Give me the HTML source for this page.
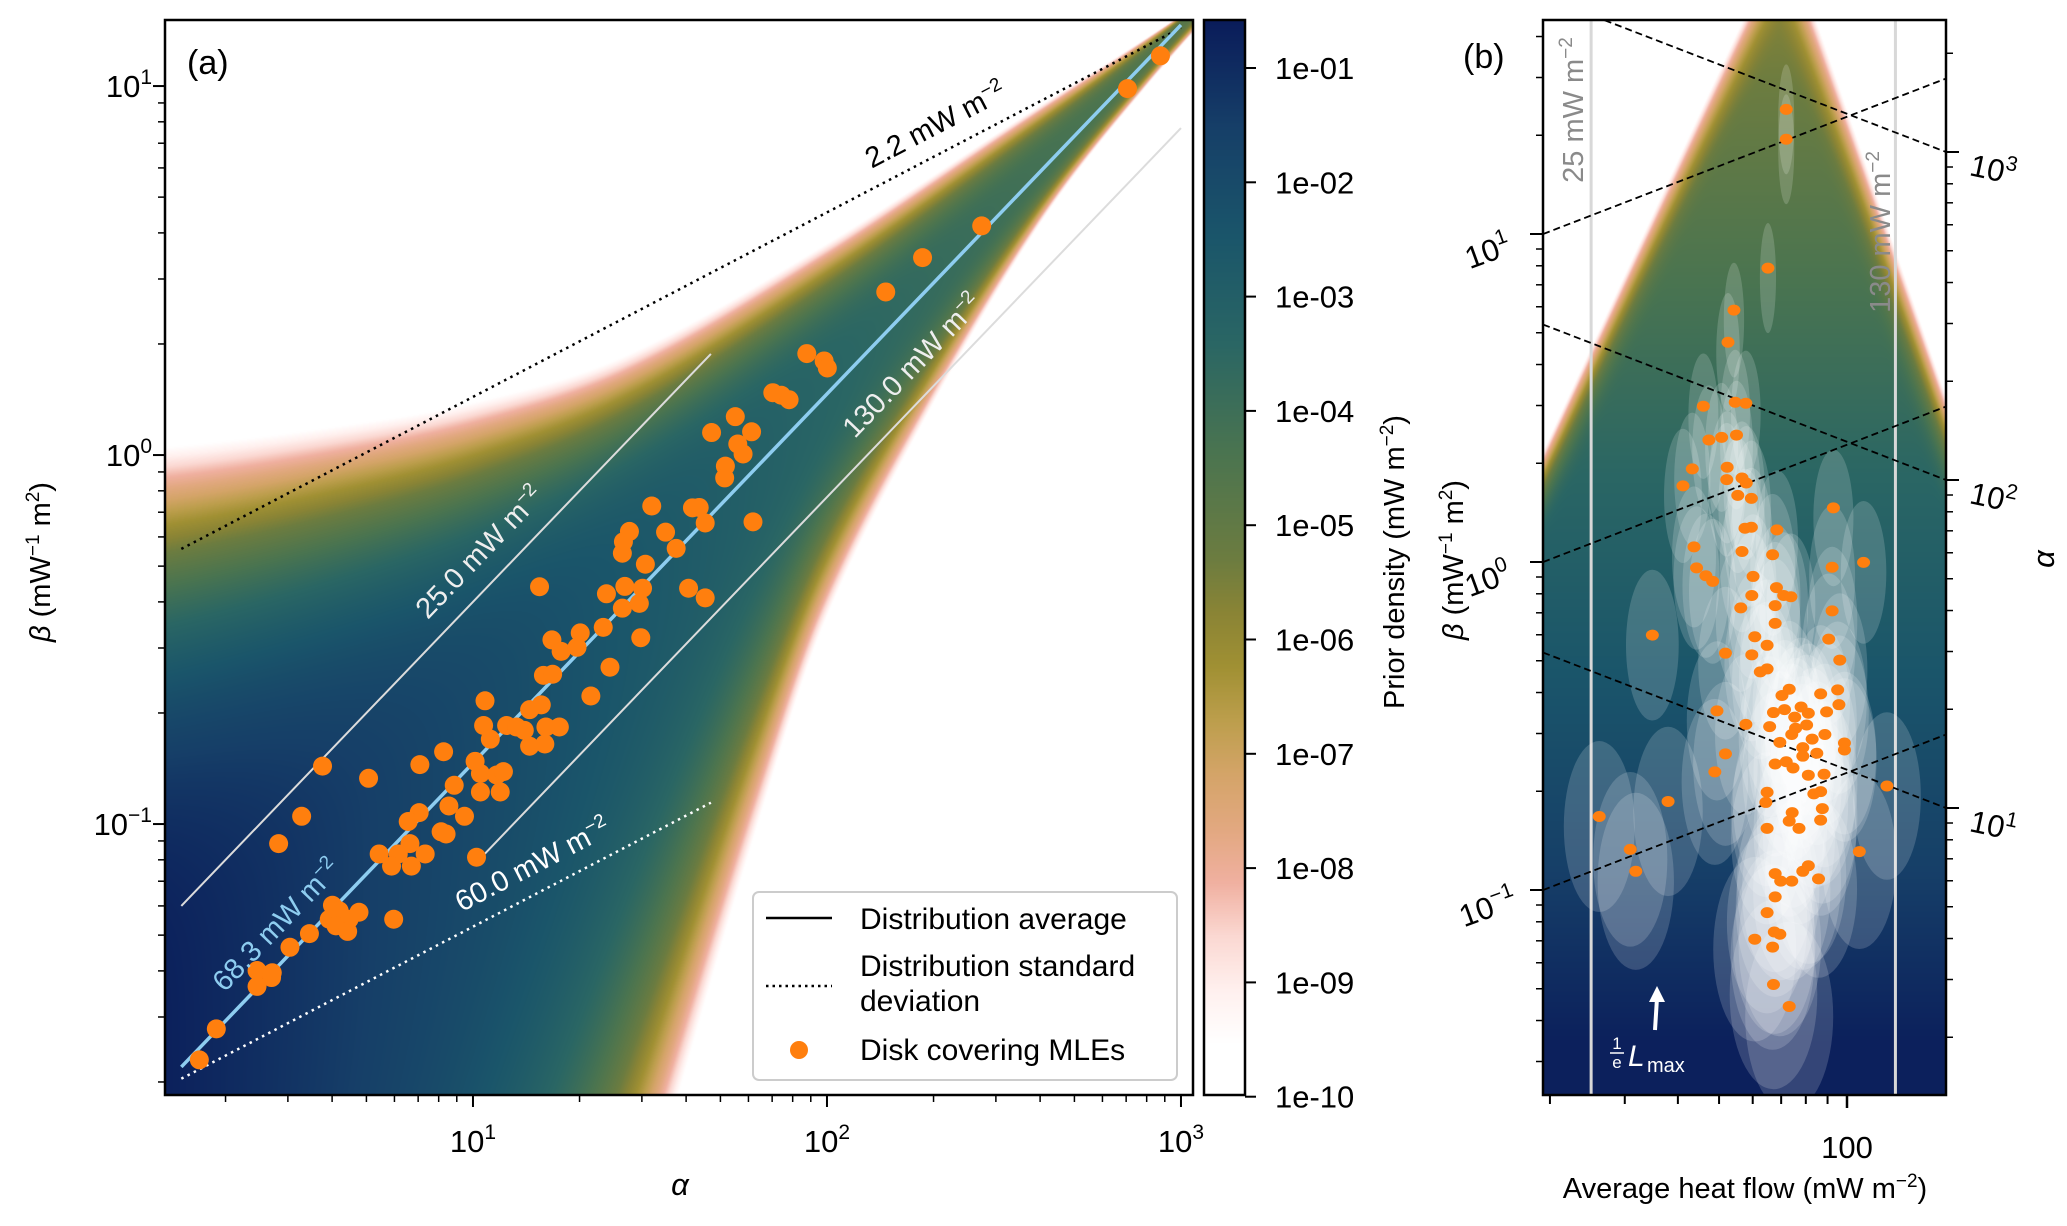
<!DOCTYPE html>
<html><head><meta charset="utf-8">
<style>
html,body{margin:0;padding:0;background:#fff;}
#root{position:relative;width:2067px;height:1226px;overflow:hidden;background:#fff;font-family:"Liberation Sans","DejaVu Sans",sans-serif;}
canvas{position:absolute;}
svg{position:absolute;left:0;top:0;}
text{font-family:"Liberation Sans","DejaVu Sans",sans-serif;}
</style></head>
<body>
<div id="root">
<canvas id="densA" width="1028" height="1075" style="left:165px;top:20px"></canvas>
<canvas id="densB" width="403" height="1075" style="left:1543px;top:20px"></canvas>
<canvas id="cbar" width="41" height="1075" style="left:1204px;top:20px"></canvas>
<svg id="svg" width="2067" height="1226" viewBox="0 0 2067 1226">
<defs>
<clipPath id="clipA"><rect x="165" y="20" width="1028" height="1075"/></clipPath>
<clipPath id="clipB"><rect x="1543" y="20" width="403" height="1075"/></clipPath>
</defs>
<g id="gA" clip-path="url(#clipA)"></g>
<g id="gB" clip-path="url(#clipB)"></g>
<g id="ticks"></g>

<rect x="165" y="20" width="1028" height="1075" fill="none" stroke="#000" stroke-width="2.5"/>
<rect x="1204" y="20" width="41" height="1075" fill="none" stroke="#000" stroke-width="2.5"/>
<rect x="1543" y="20" width="403" height="1075" fill="none" stroke="#000" stroke-width="2.5"/>

<text x="187" y="74" font-size="34">(a)</text>
<text x="1463" y="68" font-size="34">(b)</text>

<text x="680" y="1195" font-size="31" font-style="italic" text-anchor="middle">α</text>
<text transform="translate(50,562) rotate(-90)" font-size="29" text-anchor="middle"><tspan font-style="italic">β</tspan> (mW<tspan dy="-11" font-size="19">−1</tspan><tspan dy="11"> m</tspan><tspan dy="-11" font-size="19">2</tspan><tspan dy="11">)</tspan></text>
<text transform="translate(1404,562) rotate(-90)" font-size="29" text-anchor="middle">Prior density (mW m<tspan dy="-11" font-size="19">−2</tspan><tspan dy="11">)</tspan></text>
<text transform="translate(1463,560) rotate(-90)" font-size="29" text-anchor="middle"><tspan font-style="italic">β</tspan> (mW<tspan dy="-11" font-size="19">−1</tspan><tspan dy="11"> m</tspan><tspan dy="-11" font-size="19">2</tspan><tspan dy="11">)</tspan></text>
<text transform="translate(2054,559) rotate(-90)" font-size="31" font-style="italic" text-anchor="middle">α</text>
<text x="1745" y="1198" font-size="29" text-anchor="middle">Average heat flow (mW m<tspan dy="-11" font-size="19">−2</tspan><tspan dy="11">)</tspan></text>

<g>
<rect x="753" y="892" width="424" height="188" rx="6" fill="#fff" fill-opacity="0.85" stroke="#ccc" stroke-width="2"/>
<line x1="766" y1="918" x2="832" y2="918" stroke="#000" stroke-width="2.5"/>
<text x="860" y="929" font-size="30">Distribution average</text>
<line x1="766" y1="986" x2="832" y2="986" stroke="#000" stroke-width="2.5" stroke-dasharray="2.5 4"/>
<text x="860" y="976" font-size="30">Distribution standard</text>
<text x="860" y="1011" font-size="30">deviation</text>
<circle cx="799" cy="1050" r="9" fill="#ff7f0e"/>
<text x="860" y="1060" font-size="30">Disk covering MLEs</text>
</g>

<text transform="translate(1583,110) rotate(-90)" font-size="29" fill="#8a8a8a" text-anchor="middle">25 mW m<tspan dy="-11" font-size="19">−2</tspan></text>
<text transform="translate(1890,232) rotate(-90)" font-size="29" fill="#8a8a8a" text-anchor="middle">130 mW m<tspan dy="-11" font-size="19">−2</tspan></text>

<g>
<line x1="1655" y1="1030" x2="1657" y2="998" stroke="#fff" stroke-width="4"/>
<polygon points="1657,986 1649,1002 1665,1002" fill="#fff"/>
<text x="1617" y="1049" font-size="17" fill="#fff" text-anchor="middle">1</text>
<line x1="1610" y1="1053" x2="1624" y2="1053" stroke="#fff" stroke-width="1.5"/>
<text x="1617" y="1068" font-size="17" fill="#fff" text-anchor="middle">e</text>
<text x="1628" y="1066" font-size="30" font-style="italic" fill="#fff">L</text>
<text x="1647" y="1072" font-size="20" fill="#fff">max</text>
</g>
</svg>
</div>
<script>
// ---------- DATA: panel (a) MLE disks (log10 alpha, log10 beta) ----------
const logAlpha = [2.942,2.849,2.437,2.270,2.166,1.943,1.992,2.001,1.847,1.871,1.893,1.741,1.787,1.674,1.748,1.763,1.713,1.711,1.791,1.505,1.620,1.639,1.656,1.442,1.425,1.422,1.544,1.574,1.487,1.656,1.609,1.188,1.377,1.429,1.479,1.422,1.470,1.368,1.223,1.303,1.249,1.294,1.474,1.199,1.225,1.387,1.333,1.160,1.193,1.034,1.030,1.095,1.123,1.145,1.206,1.244,1.049,1.160,1.203,1.006,1.021,1.067,1.086,0.947,1.021,1.077,0.932,0.976,0.917,0.850,0.705,0.575,0.848,0.817,0.910,0.924,0.822,0.735,0.789,0.865,0.770,0.826,1.010,0.516,0.451,0.776,0.603,0.622,0.650,0.594,0.678,0.613,0.646,0.538,0.483,0.390,0.433,0.431,0.390,0.275,0.227];
const logBeta = [1.082,0.993,0.621,0.535,0.442,0.275,0.255,0.236,0.169,0.162,0.150,0.104,0.063,0.061,0.030,0.003,-0.030,-0.062,-0.181,-0.138,-0.143,-0.142,-0.184,-0.207,-0.235,-0.266,-0.209,-0.253,-0.296,-0.387,-0.361,-0.357,-0.376,-0.356,-0.361,-0.415,-0.402,-0.467,-0.501,-0.482,-0.532,-0.521,-0.495,-0.597,-0.594,-0.575,-0.653,-0.690,-0.677,-0.666,-0.733,-0.733,-0.737,-0.746,-0.737,-0.737,-0.770,-0.789,-0.783,-0.830,-0.863,-0.867,-0.858,-0.895,-0.913,-0.913,-0.951,-0.979,-0.804,-0.839,-0.876,-0.843,-0.969,-0.993,-1.021,-1.027,-1.053,-1.081,-1.081,-1.081,-1.114,-1.114,-1.090,-0.979,-1.053,-1.258,-1.220,-1.235,-1.258,-1.258,-1.239,-1.276,-1.291,-1.297,-1.334,-1.397,-1.403,-1.416,-1.440,-1.555,-1.639];
const meanQ = 68.3;
const isoQ = [25.0, 130.0];
const stdS = [2.2, 60.0];
// ---------- DATA: panel (b) (log10 heat flow, log10 beta-axis value) ----------
const bLogQ = [1.857,1.857,1.814,1.734,1.720,1.662,1.737,1.762,1.705,1.675,1.740,1.636,1.718,1.614,1.717,1.753,1.763,1.743,1.775,1.640,1.760,1.775,1.835,1.753,1.646,1.668,1.684,1.779,1.825,1.968,2.039,1.965,1.834,1.851,1.868,1.750,1.776,1.965,1.831,1.831,1.542,1.957,1.783,1.812,1.714,1.776,1.983,1.796,1.812,1.847,1.864,1.938,1.978,1.694,1.827,1.853,1.892,1.909,1.877,1.952,1.981,1.762,1.818,1.879,1.905,1.842,1.870,1.918,1.948,1.994,1.994,1.714,1.896,1.929,1.831,1.857,1.896,1.873,1.909,1.946,1.689,2.094,1.579,1.812,1.922,1.938,1.809,1.942,1.417,1.871,1.864,1.938,1.812,1.887,1.490,1.503,2.029,1.831,1.844,1.870,1.896,1.909,1.933,1.831,1.812,1.783,1.829,1.842,1.825,1.827,1.864];
const bLogV = [1.380,1.289,0.896,0.768,0.670,0.475,0.487,0.484,0.380,0.372,0.387,0.284,0.289,0.232,0.251,0.256,0.241,0.203,0.194,0.046,0.103,0.106,0.098,0.032,-0.018,-0.042,-0.059,-0.044,0.022,0.165,-0.001,-0.016,-0.078,-0.102,-0.106,-0.140,-0.102,-0.149,-0.133,-0.187,-0.223,-0.235,-0.228,-0.254,-0.278,-0.283,-0.299,-0.335,-0.326,-0.407,-0.388,-0.402,-0.390,-0.454,-0.459,-0.450,-0.442,-0.461,-0.473,-0.457,-0.435,-0.495,-0.502,-0.507,-0.497,-0.550,-0.526,-0.540,-0.526,-0.552,-0.573,-0.585,-0.566,-0.583,-0.616,-0.609,-0.592,-0.628,-0.650,-0.647,-0.640,-0.683,-0.730,-0.702,-0.707,-0.700,-0.733,-0.752,-0.776,-0.764,-0.790,-0.787,-0.812,-0.812,-0.876,-0.943,-0.883,-0.950,-0.973,-0.973,-0.943,-0.926,-0.966,-1.021,-1.069,-1.150,-1.128,-1.135,-1.174,-1.288,-1.355];
const bIsoQ = [25, 130];
const bBetaLines = [10, 1, 0.1];
const bAlphaLines = [1000, 100, 10];
const cbarTicks = ['1e-01','1e-02','1e-03','1e-04','1e-05','1e-06','1e-07','1e-08','1e-09','1e-10'];
const cbarTickVals = [-1,-2,-3,-4,-5,-6,-7,-8,-9,-10];

// ---------- scales ----------
const ax = a => 165 + 354*(Math.log10(a) - 0.130);
const ay = b => 20 + 369*(1.179 - Math.log10(b));
const axL = l => 165 + 354*(l - 0.130);
const ayL = l => 20 + 369*(1.179 - l);
const bx = lq => 1847 + 425*(lq - 2);
const by = lv => 562 - 328*lv;
const cy = v => 68 + (-1 - v)*114.3;

// ---------- colormap ----------
const CM = [[-0.58,10,28,90],[-1.52,22,63,104],[-2.46,26,85,106],[-3.41,42,102,100],[-4.35,74,116,80],[-5.29,108,124,64],[-5.76,138,132,53],[-6.23,160,144,51],[-6.70,188,158,76],[-7.17,212,164,104],[-7.65,226,168,128],[-8.12,240,176,160],[-8.59,251,216,210],[-9.06,255,240,238],[-9.53,255,255,255]];
function cmap(v){
  if(v>=CM[0][0]) return CM[0].slice(1);
  for(let i=1;i<CM.length;i++){ if(v>=CM[i][0]){const a=CM[i-1],b=CM[i];const t=(a[0]-v)/(a[0]-b[0]);return [a[1]+(b[1]-a[1])*t,a[2]+(b[2]-a[2])*t,a[3]+(b[3]-a[3])*t];}}
  return [255,255,255];
}
// smooth (Catmull-Rom) interpolation with linear extrapolation
function smooth(x,xs,ys){
  const n=xs.length;
  if(x<=xs[0]) return ys[0]+(ys[1]-ys[0])*(x-xs[0])/(xs[1]-xs[0]);
  if(x>=xs[n-1]) return ys[n-1]+(ys[n-1]-ys[n-2])*(x-xs[n-1])/(xs[n-1]-xs[n-2]);
  let i=1; while(x>xs[i]) i++;
  const x0=xs[i-1],x1=xs[i],y0=ys[i-1],y1=ys[i],h=x1-x0,t=(x-x0)/h;
  const m0 = i-2>=0 ? (y1-ys[i-2])/(x1-xs[i-2]) : (y1-y0)/h;
  const m1 = i+1<n ? (ys[i+1]-y0)/(xs[i+1]-x0) : (y1-y0)/h;
  const t2=t*t,t3=t2*t;
  return (2*t3-3*t2+1)*y0+(t3-2*t2+t)*h*m0+(-2*t3+3*t2)*y1+(t3-t2)*h*m1;
}
const UX=[-0.3,0.13,0.6,1.0,1.43,1.99,2.54,2.91,3.2], UY=[0.05,0.063,0.11,0.17,0.29,0.583,0.919,1.14,1.32];
const LX=[0.6,1.0,1.597,1.80,1.986,2.265,2.60,2.895,3.2], LY=[-5.3,-3.8,-1.734,-1.054,-0.495,0.063,0.62,0.99,1.32];
function densA(lx,ly){
  const ym = lx - Math.log10(meanQ);
  const yu = smooth(lx,UX,UY), yl = smooth(lx,LX,LY);
  const above = ly>=ym;
  let t = above ? (ly-ym)/Math.max(1e-3,yu-ym) : (ym-ly)/Math.max(1e-3,ym-yl);
  if(t>1.15) return -11;
  const c0 = -0.7 - 1.4*(lx-0.13);
  return c0 + (-10.3-c0)*Math.pow(t, above?3.6:2.5);
}
function paint(id,W,H,fn){
  const c=document.getElementById(id),ctx=c.getContext('2d'),img=ctx.createImageData(W,H),d=img.data;
  for(let y=0;y<H;y++)for(let x=0;x<W;x++){const col=cmap(fn(x,y));const i=(y*W+x)*4;d[i]=col[0];d[i+1]=col[1];d[i+2]=col[2];d[i+3]=255;}
  ctx.putImageData(img,0,0);
}
paint('densA',1028,1075,(x,y)=>densA(0.130+x/354,1.179-y/369));
paint('densB',403,1075,(x,y)=>{
  const X=1543+x,Y=20+y;
  const xl=1739+(1543-1739)*(Y-20)/(445-20), xr=1819+127*(Y-20)/370;
  const s=Math.max(xl-X,X-xr);
  const c=Math.min(-0.7,-5.6+4.8*(Y-20)/1000);
  const f=Math.max(0,Math.min(1,1+s/55));
  return c+(-10.3-c)*f*f*f;
});
paint('cbar',41,1075,(x,y)=>-1-((20+y)-68)/114.3);

const NS='http://www.w3.org/2000/svg';
function mk(tag,attrs,parent){const e=document.createElementNS(NS,tag);for(const k in attrs)e.setAttribute(k,attrs[k]);parent.appendChild(e);return e;}
const gA=document.getElementById('gA'), gB=document.getElementById('gB'), gT=document.getElementById('ticks'), svg=document.getElementById('svg');

// ---------- panel (a) lines ----------
function lineQ(q,a0,a1,stroke,w,dash,name){
  const e=mk('line',{x1:ax(a0),y1:ay(a0/q),x2:ax(a1),y2:ay(a1/q),stroke:stroke,'stroke-width':w},gA);
  if(dash) e.setAttribute('stroke-dasharray',dash);
  
  
}
function lineS(s,a0,a1,stroke,name){
  const e=mk('line',{x1:ax(a0),y1:ay(Math.sqrt(a0)/s),x2:ax(a1),y2:ay(Math.sqrt(a1)/s),stroke:stroke,'stroke-width':2.5,'stroke-dasharray':'2.5 4.5'},gA);
  
  
}
lineQ(isoQ[0],1.5,47,'#dcdcdc',2,null,'iso-line-25');
lineQ(isoQ[1],10.8,1000,'#dcdcdc',2,null,'iso-line-130');
lineS(stdS[0],1.5,1000,'#000','std-line-2-2');
lineS(stdS[1],1.5,47,'#fff','std-line-60');
lineQ(meanQ,1.5,1000,'#8ecdf0',3.5,null,'mean-line-68-3');

for(let i=0;i<logAlpha.length;i++){
  const c=mk('circle',{cx:axL(logAlpha[i]),cy:ayL(logBeta[i]),r:9.5,fill:'#ff7f0e'},gA);
  
  
}
function rotLabel(txt,q,a,isStd,color,name){
  const b = isStd ? Math.sqrt(a)/q : a/q;
  const ang = isStd ? -27.5 : -46.2;
  const off = isStd ? 18 : 20;
  const t=mk('text',{transform:`translate(${ax(a)},${ay(b)}) rotate(${ang}) translate(0,${-off})`,'font-size':29,fill:color,'text-anchor':'middle'},svg);
  t.textContent=txt+' mW m';
  const sp=mk('tspan',{dy:-11,'font-size':19},t); sp.textContent='−2';
  
  
}
rotLabel('2.2',stdS[0],220,true,'#000','label-std-2-2');
rotLabel('60.0',stdS[1],16,true,'#fff','label-std-60');
rotLabel('25.0',isoQ[0],12,false,'#eee','label-iso-25');
rotLabel('130.0',isoQ[1],200,false,'#eee','label-iso-130');
rotLabel('68.3',meanQ,3.2,false,'#8ecdf0','label-mean-68-3');

// ---------- panel (b) ----------
for(const q of bIsoQ){
  const X=bx(Math.log10(q));
  const l=mk('line',{x1:X,y1:20,x2:X,y2:1095,stroke:'#d8d8d8','stroke-width':3},gB);
  
  
}
for(let i=0;i<bLogQ.length;i++){
  const k=Math.max(0,Math.min(1,(0.9-bLogV[i])/2.2));
  const e=mk('ellipse',{cx:bx(bLogQ[i]),cy:by(bLogV[i])+10,rx:8+36*k,ry:55+40*k,fill:'#fff','fill-opacity':0.17},gB);
  
  
}
const lq0=1.285,lq1=2.233;
for(const b of bBetaLines){
  const v0=Math.log10(b), v1=v0+0.5*(lq1-lq0);
  const l=mk('line',{x1:bx(lq0),y1:by(v0),x2:bx(lq1),y2:by(v1),stroke:'#000','stroke-width':1.8,'stroke-dasharray':'7 4'},gB);
  
  
}
for(const a of bAlphaLines){
  const v1=Math.log10(a)-1.75, v0=v1+0.5*(lq1-lq0);
  const l=mk('line',{x1:bx(lq0),y1:by(v0),x2:bx(lq1),y2:by(v1),stroke:'#000','stroke-width':1.8,'stroke-dasharray':'7 4'},gB);
  
  
}
for(let i=0;i<bLogQ.length;i++){
  const c=mk('ellipse',{cx:bx(bLogQ[i]),cy:by(bLogV[i]),rx:6.5,ry:5.5,fill:'#ff7f0e'},gB);
  
  
}

// ---------- ticks ----------
function tick(x1,y1,x2,y2,w,name){
  const l=mk('line',{x1:x1,y1:y1,x2:x2,y2:y2,stroke:'#000','stroke-width':w},gT);
  
  
}
function powLabel(x,y,exp,anchor,name,transform){
  const t=mk('text',{x:x,y:y,'font-size':31,'text-anchor':anchor},gT);
  if(transform) t.setAttribute('transform',transform);
  t.textContent='10';
  const s=mk('tspan',{dy:-13,'font-size':21},t); s.textContent=exp;
  
  
}
for(let d=0;d<=3;d++)for(let m=1;m<=9;m++){
  const a=m*Math.pow(10,d); const X=ax(a); if(X<165||X>1193) continue;
  if(m===1){tick(X,1095,X,1107,2,'x-major-tick'); powLabel(X,1152,String(d),'middle','x-tick-label');}
  else tick(X,1095,X,1102,1.5,'x-minor-tick');
}
for(let d=-2;d<=1;d++)for(let m=1;m<=9;m++){
  const b=m*Math.pow(10,d); const Y=ay(b); if(Y<20||Y>1095) continue;
  if(m===1){tick(153,Y,165,Y,2,'y-major-tick'); powLabel(152,Y+11,d<0?'−'+(-d):String(d),'end','y-tick-label');}
  else tick(158,Y,165,Y,1.5,'y-minor-tick');
}
for(let i=0;i<cbarTickVals.length;i++){
  const Y=cy(cbarTickVals[i]);
  tick(1245,Y,1256,Y,2,'colorbar-tick');
  const t=mk('text',{x:1275,y:Y+11,'font-size':31},gT); t.textContent=cbarTicks[i];
  
  
}
for(let q=20;q<=170;q+=(q<100?10:100)){
  const X=bx(Math.log10(q)); if(X<1543||X>1946) continue;
  if(q===100){tick(X,1095,X,1108,2.5,'panel-b-x-major-tick');
    const t=mk('text',{x:X,y:1158,'font-size':31,'text-anchor':'middle'},gT); t.textContent='100';
    
    }
  else tick(X,1095,X,1104,2,'panel-b-x-minor-tick');
}
for(let d=-2;d<=1;d++)for(let m=1;m<=9;m++){
  const v=Math.log10(m*Math.pow(10,d)); const Y=by(v); if(Y<20||Y>1095) continue;
  if(m===1){tick(1530,Y,1543,Y,2,'panel-b-left-major-tick');
    powLabel(1488,Y+28,d<0?'−'+(-d):String(d),'middle','panel-b-left-tick-label',`rotate(-20 1488 ${Y+18})`);}
  else tick(1536,Y,1543,Y,1.5,'panel-b-left-minor-tick');
}
for(let d=0;d<=3;d++)for(let m=1;m<=9;m++){
  const v=Math.log10(m*Math.pow(10,d))-1.75; const Y=by(v); if(Y<20||Y>1095) continue;
  if(m===1){tick(1946,Y,1959,Y,2,'panel-b-right-major-tick');
    powLabel(1993,Y+28,String(d),'middle','panel-b-right-tick-label',`rotate(12 1993 ${Y+18})`);}
  else tick(1946,Y,1953,Y,1.5,'panel-b-right-minor-tick');
}
</script>
</body></html>
